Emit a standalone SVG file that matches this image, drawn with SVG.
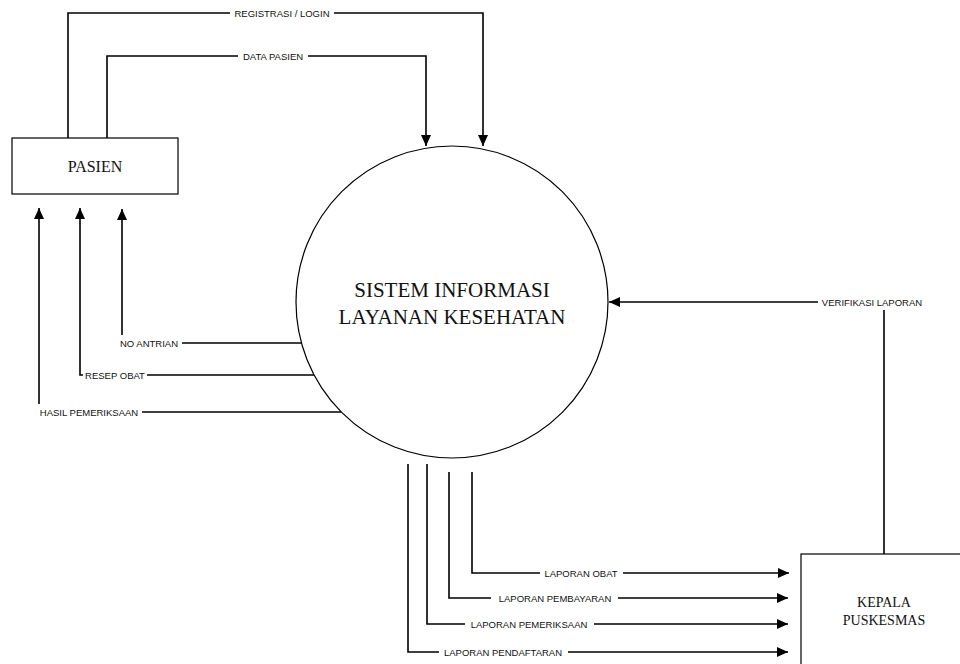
<svg xmlns="http://www.w3.org/2000/svg" width="960" height="664" viewBox="0 0 960 664">
<style>
.node{fill:#fff;stroke:#000;stroke-width:1.2}
.ntext{font-family:"Liberation Serif","Times New Roman",serif;fill:#111;text-anchor:middle}
.edge{fill:none;stroke:#000;stroke-width:1.6}
.lbg{fill:#fff}
.lbl{font-family:"Liberation Sans",Arial,sans-serif;font-size:9.5px;fill:#111;text-anchor:middle;dominant-baseline:central}
</style>
<defs>
<marker id="arr" markerUnits="userSpaceOnUse" markerWidth="12" markerHeight="10" refX="11" refY="5" orient="auto">
<path d="M0,0 L11,5 L0,10 Z" fill="#000"/>
</marker>
</defs>
<rect width="960" height="664" fill="#fff"/>
<g id="connectors">
<path class="edge" d="M68,138 V13 H483 V146" marker-end="url(#arr)"/>
<rect class="lbg" x="230" y="6" width="104" height="14"/>
<text class="lbl" x="282" y="13">REGISTRASI / LOGIN</text>
<path class="edge" d="M107,138 V56 H426 V146" marker-end="url(#arr)"/>
<rect class="lbg" x="238" y="49" width="70" height="14"/>
<text class="lbl" x="273" y="56">DATA PASIEN</text>
<path class="edge" d="M302,343 H122 V209" marker-end="url(#arr)"/>
<rect class="lbg" x="115" y="335" width="67" height="16"/>
<text class="lbl" x="149" y="343">NO ANTRIAN</text>
<path class="edge" d="M314,375 H80 V208" marker-end="url(#arr)"/>
<rect class="lbg" x="83" y="367" width="64" height="16"/>
<text class="lbl" x="115" y="375">RESEP OBAT</text>
<path class="edge" d="M341,412 H39 V208" marker-end="url(#arr)"/>
<rect class="lbg" x="35" y="404" width="107" height="16"/>
<text class="lbl" x="89" y="412">HASIL PEMERIKSAAN</text>
<path class="edge" d="M884,554 V302 H609" marker-end="url(#arr)"/>
<rect class="lbg" x="818" y="295" width="110" height="15"/>
<text class="lbl" x="872" y="302">VERIFIKASI LAPORAN</text>
<path class="edge" d="M472,472 V573 H789" marker-end="url(#arr)"/>
<rect class="lbg" x="540" y="566" width="83" height="14"/>
<text class="lbl" x="581" y="573">LAPORAN OBAT</text>
<path class="edge" d="M449,472 V598 H788" marker-end="url(#arr)"/>
<rect class="lbg" x="491" y="591" width="127" height="14"/>
<text class="lbl" x="555" y="598">LAPORAN PEMBAYARAN</text>
<path class="edge" d="M427,464 V624 H788" marker-end="url(#arr)"/>
<rect class="lbg" x="465" y="617" width="129" height="14"/>
<text class="lbl" x="529" y="624">LAPORAN PEMERIKSAAN</text>
<path class="edge" d="M408,464 V652 H788" marker-end="url(#arr)"/>
<rect class="lbg" x="439" y="645" width="129" height="14"/>
<text class="lbl" x="503" y="652">LAPORAN PENDAFTARAN</text>
</g>
<g id="pasien">
<rect class="node" x="12" y="138" width="166" height="56"/>
<text class="ntext" x="95" y="172" font-size="16">PASIEN</text>
</g>
<g id="sistem">
<circle class="node" cx="452" cy="302" r="156"/>
<text class="ntext" x="452" y="297" font-size="21">SISTEM INFORMASI</text>
<text class="ntext" x="452" y="324" font-size="21">LAYANAN KESEHATAN</text>
</g>
<g id="kepala">
<rect class="node" x="801" y="554" width="166" height="120"/>
<text class="ntext" x="884" y="607" font-size="14">KEPALA</text>
<text class="ntext" x="884" y="625" font-size="14">PUSKESMAS</text>
</g>
</svg>
